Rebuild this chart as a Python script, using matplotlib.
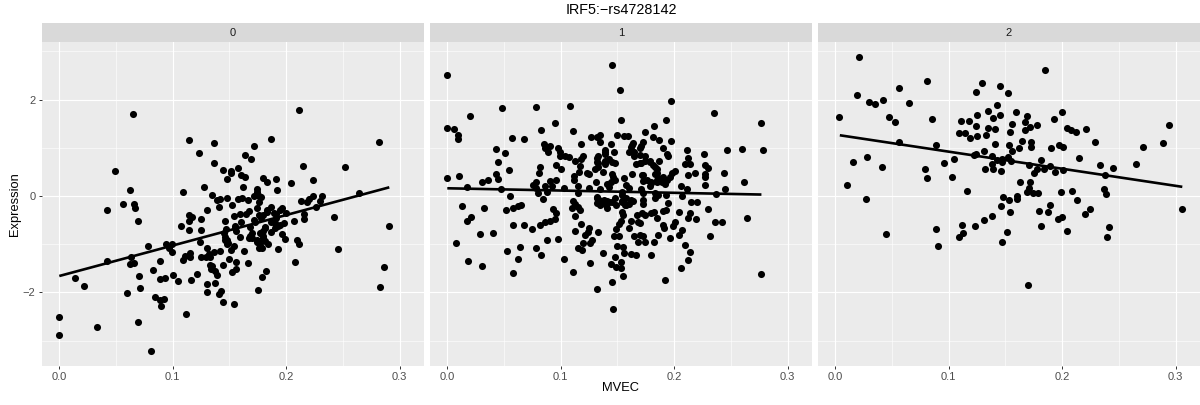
import matplotlib
matplotlib.use("Agg")
import matplotlib.pyplot as plt
import numpy as np

plt.rcParams['font.family'] = ['Liberation Sans', 'DejaVu Sans']

# ---------------- Data (MVEC, Expression) ----------------
genotypes = ["0", "1", "2"]
title = "IRF5:\u2212rs4728142"

points_0 = [
    (.065,1.70),(.211,1.78),(.114,1.17),(.187,1.19),(.136,1.10),(.282,1.11),(.172,1.03),(.123,.89),
    (.164,.855),(.169,.77),(.136,.69),(.215,.62),(.252,.61),(.158,.585),(.049,.51),(.144,.54),
    (.151,.51),(.151,.47),(.160,.435),(.164,.40),(.180,.38),(.148,.35),(.183,.30),(.191,.345),
    (.224,.34),(.204,.27),(.128,.18),(.162,.19),(.174,.15),(.062,.12),(.192,.13),(.109,.09),
    (.174,.09),(.135,.02),(.264,.055),(.232,0),(.224,-.01),(.172,0),(.176,-.01),(.178,-.02),
    (.220,-.07),(.148,-.05),(.139,-.08),(.142,-.07),(.158,-.06),(.161,-.04),(.166,-.08),(.213,-.11),
    (.218,-.13),(.230,-.11),(.176,-.13),(.056,-.16),(.066,-.16),(.152,-.19),(.141,-.23),(.067,-.25),
    (.187,-.23),(.196,-.25),(.226,-.23),(.174,-.255),(.042,-.29),(.130,-.29),(.167,-.31),(.183,-.29),
    (.069,-.52),(.114,-.39),(.117,-.44),(.114,-.51),(.125,-.48),(.107,-.63),(.114,-.70),(.125,-.70),
    (.146,-.51),(.154,-.41),(.159,-.37),(.165,-.37),(.160,-.55),(.155,-.63),(.147,-.68),(.156,-.72),
    (.168,-.65),(.173,-.53),(.176,-.39),(.180,-.39),(.191,-.37),(.195,-.29),(.200,-.36),(.191,-.46),
    (.187,-.53),(.198,-.57),(.193,-.63),(.190,-.67),(.207,-.51),(.216,-.37),(.216,-.48),(.242,-.43),
    (.291,-.63),(.181,-.65),(.180,-.72),(.177,-.76),(.170,-.77),(.187,-.75),(.196,-.79),(.199,-.90),
    (.145,-.77),(.146,-.86),(.148,-.92),(.149,-.98),(.159,-.86),(.167,-.88),(.170,-.88),(.174,-.91),
    (.176,-.98),(.180,-.88),(.184,-.99),(.181,-.94),(.176,-1.08),(.179,-1.07),(.193,-1.10),(.210,-.92),
    (.211,-1.0),(.246,-1.11),(.078,-1.03),(.094,-1.0),(.099,-.99),(.097,-1.08),(.099,-1.17),(.124,-.95),
    (.130,-1.08),(.142,-1.14),(.151,-1.12),(.154,-1.03),(.163,-1.15),(.136,-1.16),(.132,-1.21),(.115,-1.19),
    (.111,-1.24),(.115,-1.27),(.109,-1.32),(.125,-1.26),(.129,-1.27),(.133,-1.27),(.150,-1.30),(.156,-1.36),
    (.166,-1.39),(.208,-1.37),(.042,-1.34),(.063,-1.27),(.062,-1.41),(.066,-1.39),(.089,-1.35),(.133,-1.43),
    (.135,-1.45),(.144,-1.43),(.134,-1.52),(.137,-1.55),(.139,-1.63),(.156,-1.52),(.152,-1.58),(.182,-1.56),
    (.179,-1.68),(.083,-1.53),(.070,-1.66),(.100,-1.64),(.121,-1.61),(.014,-1.71),(.022,-1.87),(.089,-1.72),
    (.093,-1.70),(.105,-1.77),(.116,-1.74),(.130,-1.82),(.137,-1.80),(.071,-1.91),(.060,-2.02),(.175,-1.95),
    (.130,-1.99),(.143,-1.97),(.141,-2.04),(.283,-1.89),(.286,-1.48),(.084,-2.10),(.092,-2.13),(.089,-2.16),
    (.090,-2.28),(.144,-2.20),(.154,-2.24),(.112,-2.45),(0,-2.52),(0,-2.88),(.033,-2.72),(.069,-2.61),
    (.081,-3.21),
    (.178,-.77),(.180,-.84),(.177,-1.02),(.181,-.67),(.174,-.96),(.168,-.84),(.195,-.60),(.190,-.57),
    (.189,-.36),(.183,-.33),(.178,-.45),(.172,-.50),(.146,-.91),(.148,-1.0),(.155,-.67),
]

points_1 = [
    (.145,2.72),(0,2.52),(.152,2.20),(.197,1.97),(.108,1.87),(.078,1.85),(.048,1.82),(.235,1.72),
    (.020,1.67),(.153,1.57),(.193,1.58),(.095,1.51),(.277,1.51),(.182,1.45),(0,1.42),(.006,1.39),
    (.083,1.37),(.111,1.34),(.174,1.33),(.009,1.27),(.009,1.19),(.135,1.27),(.127,1.22),(.132,1.23),
    (.135,1.13),(.150,1.26),(.156,1.24),(.159,1.24),(.181,1.22),(.057,1.21),(.068,1.18),(.187,1.16),
    (.197,1.15),(.173,1.13),(.171,1.04),(.170,.99),(.164,1.09),(.162,1.01),(.118,1.08),(.144,1.08),
    (.085,1.07),(.086,1.0),(.091,1.04),(.098,.99),(.099,.91),(.089,.91),(.043,.97),(.051,.89),
    (.139,.95),(.139,.87),(.147,.91),(.190,.99),(.160,.92),(.165,.91),(.165,.82),(.170,.85),
    (.174,.83),(.211,.95),(.226,.87),(.247,.95),(.260,.97),(.278,.95),(.212,.78),(.194,.87),
    (.195,.82),(.099,.82),(.104,.82),(.107,.81),(.120,.84),(.118,.76),(.113,.73),(.133,.82),
    (.132,.71),(.139,.73),(.143,.76),(.148,.69),(.133,.61),(.139,.66),(.174,.73),(.179,.73),
    (.187,.73),(.171,.69),(.166,.66),(.181,.64),(.185,.57),(.210,.66),(.214,.66),(.227,.64),
    (.230,.59),(.045,.70),(.096,.64),(.082,.60),(.100,.56),(.117,.62),(.130,.57),(.054,.53),
    (.081,.47),(.116,.50),(.123,.48),(.125,.45),(.137,.49),(.201,.52),(.198,.47),(.218,.48),
    (.244,.48),(.227,.46),(.227,.40),(.212,.43),(.043,.45),(.045,.35),(.010,.41),(0,.37),
    (.112,.42),(.112,.33),(.145,.45),(.146,.39),(.148,.33),(.156,.38),(.163,.45),(.172,.43),
    (.183,.46),(.190,.40),(.186,.37),(.196,.39),(.173,.32),(.180,.30),(.185,.33),(.189,.30),
    (.192,.25),(.262,.30),(.227,.23),(.036,.33),(.031,.28),(.078,.30),(.076,.23),(.096,.33),
    (.091,.31),(.092,.21),(.086,.21),(.131,.28),(.141,.24),(.144,.28),(.143,.19),(.115,.21),
    (.103,.17),(.125,.16),(.135,.15),(.158,.23),(.160,.16),(.171,.15),(.179,.21),(.206,.20),
    (.211,.15),(.245,.14),(.017,.19),(.047,.15),(.078,.16),(.080,.07),(.088,.09),(.115,.07),
    (.154,.09),(.173,.06),(.183,.06),(.186,.02),(.193,.02),(.207,0),(.237,.04),(.055,0),
    (.084,-.06),(.132,-.03),(.134,-.08),(.138,-.08),(.141,-.10),(.148,-.05),(.154,.02),(.154,-.10),
    (.158,-.05),(.160,-.17),(.164,-.10),(.157,-.19),(.173,-.08),(.173,-.17),(.183,-.05),(.132,-.15),
    (.135,-.19),(.140,-.19),(.143,-.12),(.111,-.10),(.113,-.17),(.115,-.22),(.110,-.24),(.117,-.30),
    (.113,-.42),(.013,-.20),(.032,-.24),(.052,-.29),(.058,-.24),(.062,-.21),(.065,-.19),(.093,-.28),
    (.096,-.36),(.095,-.47),(.091,-.51),(.086,-.55),(.082,-.60),(.021,-.43),(.017,-.51),(.058,-.61),
    (.068,-.60),(.075,-.69),(.029,-.78),(.040,-.76),(.118,-.58),(.113,-.73),(.125,-.67),(.124,-.74),
    (.121,-.80),(.133,-.74),(.088,-.92),(.098,-.90),(.008,-.98),(.053,-1.15),(.064,-1.06),(.078,-1.08),
    (.120,-.97),(.128,-.91),(.126,-.98),(.115,-1.07),(.119,-1.13),(.083,-1.23),(.062,-1.30),(.018,-1.34),
    (.031,-1.46),(.058,-1.59),(.103,-1.31),(.111,-1.57),(.126,-1.39),(.137,-1.19),(.148,-1.27),(.153,-1.36),
    (.144,-1.42),(.149,-1.47),(.153,-1.49),(.155,-1.67),(.145,-1.78),(.132,-1.93),(.146,-2.34),(.192,-1.75),
    (.277,-1.62),(.206,-1.50),(.212,-1.32),(.214,-1.17),(.210,-1.02),(.180,-1.22),(.166,-1.22),(.162,-1.20),
    (.156,-1.18),(.150,-1.03),(.155,-1.05),(.147,-.83),(.151,-.82),(.149,-.69),(.151,-.59),(.153,-.51),
    (.155,-.39),(.154,-.33),(.160,-.67),(.162,-.52),(.167,-.39),(.168,-.53),(.170,-.57),(.172,-.35),
    (.174,-.39),(.180,-.36),(.182,-.33),(.185,-.45),(.190,-.31),(.193,-.29),(.195,-.15),(.204,-.34),
    (.190,-.60),(.191,-.67),(.199,-.62),(.201,-.55),(.207,-.71),(.204,-.80),(.186,-.81),(.196,-.88),
    (.182,-.96),(.165,-.83),(.170,-.80),(.168,-.95),(.173,-.84),(.174,-.95),(.215,-.13),(.220,-.12),
    (.214,-.35),(.212,-.45),(.219,-.48),(.230,-.28),(.236,-.55),(.242,-.53),(.264,-.46),(.232,-.83),
    (.132,-.05),(.136,-.12),(.141,-.25),(.145,-.12),(.149,-.19),(.154,-.12),(.158,-.19),(.162,-.08),
    (.180,.26),(.185,.30),(.189,.37),(.194,.33),(.176,.33),(.173,.44),(.185,.47),(.183,.61),
    (.179,.71),(.170,.68),(.133,.68),(.139,.71),(.145,.71),(.132,.78),(.139,.92),(.163,1.05),
    (.164,.92),
]

points_2 = [
    (.021,2.88),(.185,2.61),(.081,2.39),(.129,2.34),(.145,2.28),(.056,2.24),(.124,2.16),(.152,2.14),
    (.019,2.10),(.030,1.95),(.035,1.90),(.042,1.99),(.065,1.93),(.143,1.89),(.135,1.76),(.159,1.75),
    (.200,1.74),(.125,1.69),(.145,1.68),(.169,1.65),(.139,1.62),(.003,1.63),(.047,1.64),(.053,1.54),
    (.085,1.59),(.193,1.60),(.111,1.55),(.118,1.56),(.167,1.53),(.156,1.49),(.178,1.47),(.172,1.44),
    (.294,1.47),(.124,1.45),(.135,1.42),(.141,1.38),(.167,1.36),(.204,1.41),(.208,1.37),(.212,1.33),
    (.221,1.40),(.109,1.30),(.114,1.30),(.119,1.20),(.125,1.24),(.133,1.27),(.154,1.32),(.165,1.15),
    (.173,1.13),(.229,1.11),(.056,1.11),(.089,1.05),(.141,1.07),(.153,1.06),(.173,1.02),(.162,.99),
    (.156,.93),(.190,1.0),(.197,1.05),(.201,1.01),(.271,1.02),(.289,1.09),(.131,.93),(.122,.86),
    (.124,.87),(.138,.84),(.215,.79),(.028,.80),(.016,.71),(.105,.77),(.096,.68),(.143,.74),
    (.147,.77),(.152,.80),(.147,.71),(.155,.72),(.181,.75),(.138,.66),(.171,.64),(.189,.63),
    (.233,.64),(.265,.67),(.245,.59),(.041,.60),(.079,.55),(.132,.56),(.139,.55),(.146,.51),
    (.178,.57),(.184,.57),(.194,.50),(.201,.54),(.175,.47),(.238,.44),(.081,.37),(.103,.39),
    (.010,.22),(.163,.28),(.172,.30),(.171,.17),(.169,.09),(.174,.07),(.179,.06),(.116,.11),
    (.199,.08),(.209,.10),(.237,.15),(.239,.04),(.027,-.06),(.148,-.03),(.153,-.08),(.160,-.01),
    (.160,-.07),(.213,-.08),(.146,-.20),(.154,-.33),(.180,-.31),(.189,-.19),(.188,-.34),(.138,-.41),
    (.131,-.49),(.123,-.62),(.112,-.60),(.089,-.68),(.045,-.78),(.113,-.77),(.109,-.85),(.151,-.75),
    (.147,-.95),(.091,-1.03),(.196,-.48),(.200,-.44),(.181,-.62),(.204,-.72),(.220,-.38),(.225,-.28),
    (.241,-.64),(.240,-.86),(.170,-1.84),(.306,-.26),
]

# fitted line end points per panel
fit_x = [(0, .291), (0, .277), (.004, .306)]
fit_y = [(-1.66, .18), (.16, .03), (1.26, .19)]

x_ticks = [0.0, 0.1, 0.2, 0.3]
x_minor = [0.05, 0.15, 0.25]
y_ticks = [-2, 0, 2]
y_minor = [-3, -1, 1, 3]
y_labels = ["\u22122", "0", "2"]

# ---------------- Plot ----------------
W, H = 1200, 405
fig = plt.figure(figsize=(W / 100, H / 100), dpi=100)

panel_lefts = [42, 430, 818]
panel_w = 382
top, bottom, strip_top = 42, 365.5, 23

for i, points in enumerate([points_0, points_1, points_2]):
    left = panel_lefts[i]
    ax = fig.add_axes([left / W, 1 - bottom / H, panel_w / W, (bottom - top) / H])
    ax.set_facecolor("#EBEBEB")
    ax.set_xlim(-.01525, .3216)
    ax.set_ylim(-3.517, 3.195)
    for s in ax.spines.values():
        s.set_visible(False)

    ax.set_xticks(x_ticks)
    ax.set_xticklabels([f"{t:.1f}" for t in x_ticks])
    ax.set_xticks(x_minor, minor=True)
    ax.set_yticks(y_ticks)
    ax.set_yticks(y_minor, minor=True)
    if i == 0:
        ax.set_yticklabels(y_labels)
    else:
        ax.set_yticklabels([])
    ax.grid(True, which="major", color="white", lw=0.85, zorder=1)
    ax.grid(True, which="minor", color="white", lw=0.42, zorder=1)
    ax.set_axisbelow(True)
    ax.tick_params(which="minor", length=0)
    ax.tick_params(axis="x", which="major", length=2.2, width=0.7, color="#333333",
                   labelsize=8, labelcolor="#4D4D4D", pad=2.5)
    ax.tick_params(axis="y", which="major", length=2.2 if i == 0 else 0, width=0.7, color="#333333",
                   labelsize=8, labelcolor="#4D4D4D", pad=2.5)

    pts = np.array(points)
    ax.scatter(pts[:, 0], pts[:, 1], s=26, color="black", linewidths=0, zorder=3, clip_on=False)
    ax.plot(fit_x[i], fit_y[i], color="black", lw=1.9, zorder=4, solid_capstyle="butt")

    # facet strip on top of the panel
    strip = fig.add_axes([left / W, 1 - top / H, panel_w / W, (top - strip_top) / H])
    strip.set_facecolor("#D9D9D9")
    strip.set_xticks([])
    strip.set_yticks([])
    for s in strip.spines.values():
        s.set_visible(False)
    strip.text(0.5, 0.48, genotypes[i], ha="center", va="center", fontsize=8,
               color="#1A1A1A", transform=strip.transAxes)

fig.text(621 / W, 1 - 10 / H, title, ha="center", va="center", fontsize=10.4, color="black")
fig.text(620 / W, 1 - 388 / H, "MVEC", ha="center", va="center", fontsize=9.3, color="black")
fig.text(15.5 / W, 1 - 204 / H, "Expression", ha="center", va="center", rotation=90,
         fontsize=9.3, color="black")

fig.savefig("out.png", dpi=100)
